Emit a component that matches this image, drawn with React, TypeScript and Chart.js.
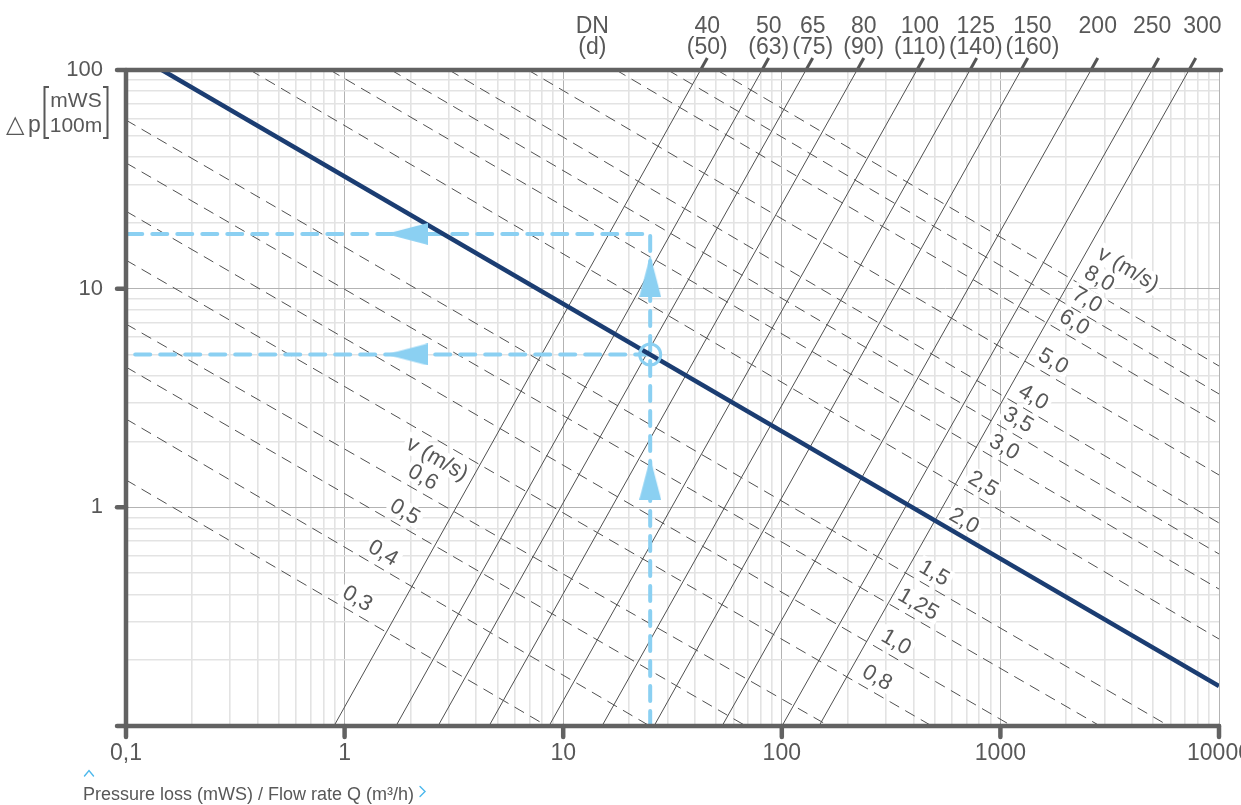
import React, { useEffect, useRef } from 'react';
import { Chart, registerables } from 'chart.js';

Chart.register(...registerables);

const FONT = "'Liberation Sans', Arial, sans-serif";
const TEXT = '#585858';
const AXIS = '#626262';
const NAVY = '#1b3d72';
const BLUE = '#8bd0f2';
const THIN = '#505050';

// Axis decades
const xDecades = [0.1, 1, 10, 100, 1000, 10000];
const yDecades = [0.1, 1, 10, 100];

// Pipe sizes: nominal size DN and outside diameter d
const dnNames = ['40', '50', '65', '80', '100', '125', '150', '200', '250', '300'];
const dnOuter = ['(50)', '(63)', '(75)', '(90)', '(110)', '(140)', '(160)', '', '', ''];
// Flow rate Q (m³/h) of each pipe line at Δp = 0.1 and at Δp = 100 mWS/100m
const dnFlowAtMin = [0.894, 1.718, 2.675, 4.577, 8.61, 15.05, 26.03, 53.3, 100.2, 148];
const dnFlowAtMax = [42.5, 81.2, 129, 221, 415, 726, 1243, 2597, 4937, 7292];

// Flow velocity lines v (m/s): start and end points (Q, Δp)
const vLabels = ['0,3', '0,4', '0,5', '0,6', '0,8', '1,0', '1,25', '1,5', '2,0', '2,5', '3,0', '3,5', '4,0', '5,0', '6,0', '7,0', '8,0'];
const vStartQ = [0.1, 0.1, 0.1, 0.1, 0.1, 0.1, 0.1, 0.1, 0.146, 0.369, 0.857, 1.631, 3.003, 6.9, 17.44, 30.1, 50.5];
const vStartDp = [1.334, 2.535, 4.38, 6.89, 13.5, 22.6, 37.6, 59.0, 100, 100, 100, 100, 100, 100, 100, 100, 100];
const vEndQ = [8.43, 24.9, 68.6, 164.4, 486, 1130, 2858, 5902, 10000, 10000, 10000, 10000, 10000, 10000, 10000, 10000, 10000];
const vEndDp = [0.1, 0.1, 0.1, 0.1, 0.1, 0.1, 0.1, 0.1, 0.1524, 0.25, 0.423, 0.612, 0.848, 1.406, 2.405, 3.3, 4.43];
// Flow rate where each velocity label sits on its line
const vLabelQ = [1.06, 1.39, 1.75, 2.12, 253, 309, 390, 462, 633, 773, 965, 1118, 1310, 1617, 2017, 2312, 2624];
// Lines carrying the "v (m/s)" caption above their label
const vHeaderAt = [3, 16];

// System curve
const systemQ = [0.146, 10000];
const systemDp = [100, 0.1524];

// Worked example: Q = 25 m³/h read against Δp
const exampleQ = 25;
const exampleDp = 5;
const readDp = 17.8;
const pathAQ = [25, 25, 0.1];
const pathADp = [0.1, 17.8, 17.8];
const pathBQ = [25, 0.1];
const pathBDp = [5, 5];
const arrowQ = [1.93, 1.93, 25, 25];
const arrowDp = [17.8, 5, 11.4, 1.35];
const arrowAngle = [-90, -90, 0, 0];

const pts = (qs: number[], dps: number[]) => qs.map((q, i) => ({ x: q, y: dps[i] }));

function logTicks(decades: number[]) {
  const out: { value: number }[] = [];
  for (let i = 0; i < decades.length - 1; i++) {
    for (let k = 1; k < 10; k++) out.push({ value: +(k * decades[i]).toPrecision(4) });
  }
  out.push({ value: decades[decades.length - 1] });
  return out;
}
const isDecade = (v: number) => Math.abs(Math.log10(v) - Math.round(Math.log10(v))) < 1e-6;
const fmt = (v: number) => String(v).replace('.', ',');

function line(ctx: CanvasRenderingContext2D, x1: number, y1: number, x2: number, y2: number) {
  ctx.beginPath();
  ctx.moveTo(x1, y1);
  ctx.lineTo(x2, y2);
  ctx.stroke();
}

function drawVelocityLabels(chart: any) {
  const ctx: CanvasRenderingContext2D = chart.ctx;
  const xs = chart.scales.x;
  const ys = chart.scales.y;
  ctx.save();
  ctx.font = `22px ${FONT}`;
  ctx.textAlign = 'center';
  ctx.textBaseline = 'middle';
  vLabels.forEach((lab, i) => {
    const lq0 = Math.log10(vStartQ[i]);
    const lq1 = Math.log10(vEndQ[i]);
    const ld0 = Math.log10(vStartDp[i]);
    const ld1 = Math.log10(vEndDp[i]);
    const t = (Math.log10(vLabelQ[i]) - lq0) / (lq1 - lq0);
    const dp = Math.pow(10, ld0 + t * (ld1 - ld0));
    const px = xs.getPixelForValue(vLabelQ[i]);
    const py = ys.getPixelForValue(dp);
    const ang = Math.atan2(
      ys.getPixelForValue(vEndDp[i]) - ys.getPixelForValue(vStartDp[i]),
      xs.getPixelForValue(vEndQ[i]) - xs.getPixelForValue(vStartQ[i])
    );
    ctx.save();
    ctx.translate(px, py);
    ctx.rotate(ang);
    const w = ctx.measureText(lab).width;
    ctx.fillStyle = '#ffffff';
    ctx.fillRect(-w / 2 - 3, -25, w + 6, 20);
    ctx.fillStyle = TEXT;
    ctx.fillText(lab, 0, -14);
    const h = vHeaderAt.indexOf(i);
    if (h >= 0) {
      const head = 'v (m/s)';
      const along = h === 0 ? 3 : 20;
      const hw = ctx.measureText(head).width;
      ctx.fillStyle = '#ffffff';
      ctx.fillRect(along - hw / 2 - 3, -48, hw + 6, 21);
      ctx.fillStyle = TEXT;
      ctx.fillText(head, along, -37);
    }
    ctx.restore();
  });
  ctx.restore();
}

function drawDecor(chart: any) {
  const ctx: CanvasRenderingContext2D = chart.ctx;
  const xs = chart.scales.x;
  const ys = chart.scales.y;
  const { left, right, top, bottom } = chart.chartArea;
  ctx.save();

  // pipe-size lines continue above the frame as short heavy strokes
  const tips: number[] = [];
  ctx.strokeStyle = '#555555';
  ctx.lineWidth = 3;
  ctx.lineCap = 'butt';
  dnNames.forEach((_, i) => {
    const x0 = xs.getPixelForValue(dnFlowAtMin[i]);
    const y0 = ys.getPixelForValue(0.1);
    const x1 = xs.getPixelForValue(dnFlowAtMax[i]);
    const y1 = ys.getPixelForValue(100);
    const k = (x1 - x0) / (y0 - y1);
    const tx = x1 + 12 * k;
    line(ctx, x1, y1, tx, y1 - 12);
    tips.push(tx);
  });

  // frame and decade ticks
  ctx.strokeStyle = AXIS;
  ctx.lineWidth = 4.5;
  ctx.lineCap = 'round';
  line(ctx, left - 9, top, right + 2, top);
  line(ctx, left, top, left, bottom + 11);
  line(ctx, left - 9, bottom, right, bottom);
  yDecades.forEach((v) => {
    if (v === 0.1 || v === 100) return;
    const py = ys.getPixelForValue(v);
    line(ctx, left - 9, py, left, py);
  });
  xDecades.forEach((v) => {
    if (v === 0.1) return;
    const px = xs.getPixelForValue(v);
    line(ctx, px, bottom, px, bottom + 11);
  });

  // pipe size labels
  ctx.fillStyle = TEXT;
  ctx.font = `23px ${FONT}`;
  ctx.textAlign = 'center';
  ctx.textBaseline = 'alphabetic';
  const cols = dnNames.map((n, i) => ({
    c: tips[i],
    w1: ctx.measureText(n).width,
    w2: dnOuter[i] ? ctx.measureText(dnOuter[i]).width : 0,
  }));
  for (let it = 0; it < 100; it++) {
    for (let i = 0; i < cols.length - 1; i++) {
      const A = cols[i];
      const B = cols[i + 1];
      const need = Math.max((A.w1 + B.w1) / 2 + 12, A.w2 && B.w2 ? (A.w2 + B.w2) / 2 + 3 : 0);
      const d = B.c - A.c;
      if (d < need) {
        const s = (need - d) / 2;
        A.c -= s;
        B.c += s;
      }
    }
  }
  cols.forEach((col, i) => {
    ctx.fillText(dnNames[i], col.c, 33);
    if (dnOuter[i]) ctx.fillText(dnOuter[i], col.c, 54);
  });
  const dnX = cols[0].c - 115;
  ctx.fillText('DN', dnX, 33);
  ctx.fillText('(d)', dnX, 54);

  // Δp [mWS / 100m] axis title
  ctx.textAlign = 'left';
  ctx.font = `24px 'DejaVu Sans', sans-serif`;
  ctx.fillText('\u25B3', 6, 132);
  ctx.font = `23px ${FONT}`;
  ctx.fillText('p', 28, 132);
  ctx.font = `21px ${FONT}`;
  ctx.textAlign = 'center';
  ctx.fillText('mWS', 76, 107);
  ctx.fillText('100m', 76, 132);
  ctx.strokeStyle = TEXT;
  ctx.lineWidth = 2;
  ctx.lineCap = 'butt';
  ctx.beginPath();
  ctx.moveTo(49, 87); ctx.lineTo(44.5, 87); ctx.lineTo(44.5, 138); ctx.lineTo(49, 138);
  ctx.moveTo(103, 87); ctx.lineTo(107.5, 87); ctx.lineTo(107.5, 138); ctx.lineTo(103, 138);
  ctx.stroke();

  // caption below the axis
  ctx.textAlign = 'left';
  ctx.font = `18px ${FONT}`;
  ctx.fillStyle = TEXT;
  const cap = 'Pressure loss (mWS) / Flow rate Q (m\u00B3/h)';
  ctx.fillText(cap, 83, 800);
  const cw = ctx.measureText(cap).width;
  ctx.strokeStyle = '#4db8ec';
  ctx.lineWidth = 1.4;
  ctx.lineCap = 'round';
  ctx.beginPath();
  ctx.moveTo(84.5, 776); ctx.lineTo(89, 770.5); ctx.lineTo(93.5, 776);
  ctx.moveTo(83 + cw + 6, 786.5); ctx.lineTo(83 + cw + 11, 791.5); ctx.lineTo(83 + cw + 6, 796.5);
  ctx.stroke();

  ctx.restore();
}

const decorPlugin = {
  id: 'decor',
  beforeDatasetDraw(chart: any, args: any) {
    if (chart.data.datasets[args.index].label === 'system') drawVelocityLabels(chart);
  },
  afterDatasetsDraw(chart: any) {
    drawDecor(chart);
  },
};

export default function App() {
  const ref = useRef<HTMLCanvasElement>(null);

  useEffect(() => {
    const canvas = ref.current;
    if (!canvas) return;

    const arrow = document.createElement('canvas');
    arrow.width = 22;
    arrow.height = 42;
    const a = arrow.getContext('2d')!;
    a.fillStyle = BLUE;
    a.beginPath();
    a.moveTo(11, 0);
    a.lineTo(22, 42);
    a.lineTo(0, 42);
    a.closePath();
    a.fill();

    const datasets: any[] = [];
    datasets.push({
      label: 'arrows',
      data: pts(arrowQ, arrowDp),
      showLine: false,
      pointStyle: arrow,
      pointRotation: arrowAngle,
      pointRadius: 10,
      order: 0,
    });
    datasets.push({
      label: 'point',
      data: [{ x: exampleQ, y: exampleDp }],
      showLine: false,
      pointStyle: 'circle',
      pointRadius: 10.5,
      pointBorderWidth: 3,
      pointBorderColor: BLUE,
      pointBackgroundColor: 'rgba(0,0,0,0)',
      order: 0,
    });
    datasets.push({
      label: 'system',
      data: pts(systemQ, systemDp),
      borderColor: NAVY,
      borderWidth: 4.5,
      pointRadius: 0,
      order: 1,
    });
    datasets.push({
      label: 'read ' + readDp,
      data: pts(pathAQ, pathADp),
      borderColor: BLUE,
      borderWidth: 4,
      borderDash: [15, 10],
      borderCapStyle: 'round',
      pointRadius: 0,
      order: 2,
    });
    datasets.push({
      label: 'read ' + exampleDp,
      data: pts(pathBQ, pathBDp),
      borderColor: BLUE,
      borderWidth: 4,
      borderDash: [15, 10],
      borderCapStyle: 'round',
      pointRadius: 0,
      order: 2,
    });
    dnNames.forEach((n, i) => {
      datasets.push({
        label: 'DN ' + n,
        data: [
          { x: dnFlowAtMin[i], y: 0.1 },
          { x: dnFlowAtMax[i], y: 100 },
        ],
        borderColor: THIN,
        borderWidth: 1,
        pointRadius: 0,
        order: 5,
      });
    });
    vLabels.forEach((v, i) => {
      datasets.push({
        label: 'v ' + v,
        data: [
          { x: vStartQ[i], y: vStartDp[i] },
          { x: vEndQ[i], y: vEndDp[i] },
        ],
        borderColor: THIN,
        borderWidth: 1,
        borderDash: [11, 7],
        pointRadius: 0,
        order: 5,
      });
    });

    const gridColor = (c: any) => (c.tick && isDecade(c.tick.value) ? '#b3b3b3' : '#e3e3e3');
    const gridWidth = (c: any) => (c.tick && isDecade(c.tick.value) ? 1 : 1.6);

    const chart = new Chart(canvas, {
      type: 'line',
      data: { datasets },
      plugins: [decorPlugin],
      options: {
        animation: false,
        responsive: false,
        devicePixelRatio: 1,
        events: [],
        layout: { padding: { top: 70, right: 22, left: 0, bottom: 0 } },
        plugins: { legend: { display: false }, tooltip: { enabled: false } },
        scales: {
          x: {
            type: 'logarithmic',
            min: 0.1,
            max: 10000,
            afterBuildTicks: (s: any) => {
              s.ticks = logTicks(xDecades);
            },
            afterFit: (s: any) => {
              s.height = 79;
              s.paddingLeft = 0;
              s.paddingRight = 0;
            },
            border: { display: false },
            grid: { color: gridColor, lineWidth: gridWidth, drawTicks: false },
            ticks: {
              autoSkip: false,
              maxRotation: 0,
              padding: 14,
              color: TEXT,
              font: { family: FONT, size: 23 },
              callback: (v: any) => (isDecade(Number(v)) ? fmt(Number(v)) : ''),
            },
          },
          y: {
            type: 'logarithmic',
            min: 0.1,
            max: 100,
            afterBuildTicks: (s: any) => {
              s.ticks = logTicks(yDecades);
            },
            afterFit: (s: any) => {
              s.width = 126;
              s.paddingTop = 0;
              s.paddingBottom = 0;
            },
            border: { display: false },
            grid: { color: gridColor, lineWidth: gridWidth, drawTicks: false },
            ticks: {
              autoSkip: false,
              padding: 23,
              color: TEXT,
              font: { family: FONT, size: 22 },
              callback: (v: any) => {
                const n = Number(v);
                return isDecade(n) && n >= 1 ? fmt(n) : '';
              },
            },
          },
        },
      } as any,
    });

    return () => chart.destroy();
  }, []);

  return (
    <div style={{ position: 'fixed', left: 0, top: 0, width: 1241, height: 805, background: '#ffffff' }}>
      <canvas ref={ref} width={1241} height={805} style={{ display: 'block', width: 1241, height: 805 }} />
    </div>
  );
}
